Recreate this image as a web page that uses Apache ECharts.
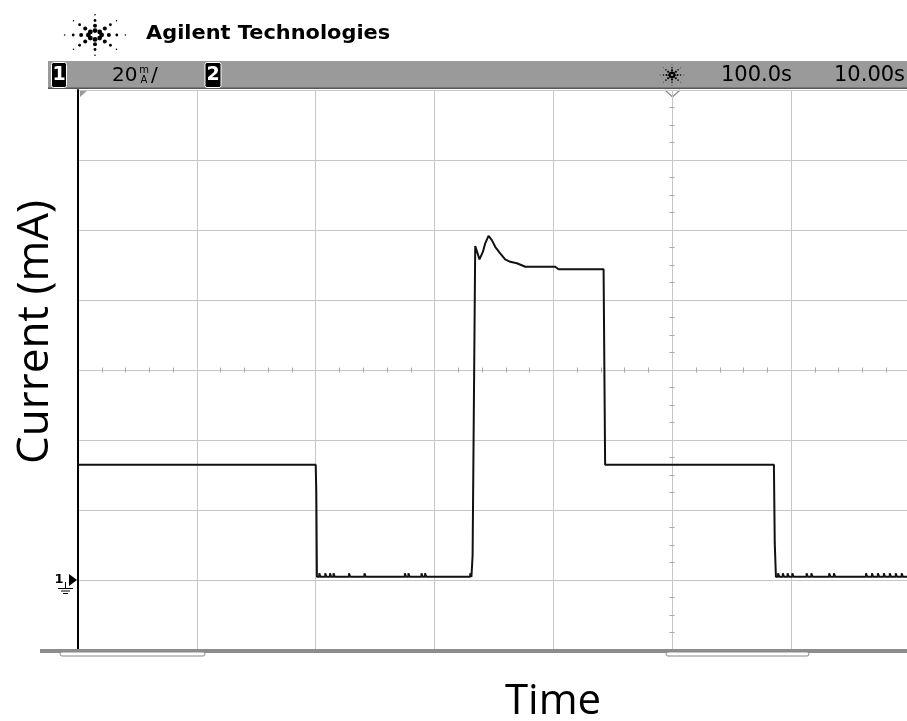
<!DOCTYPE html>
<html>
<head>
<meta charset="utf-8">
<script src="https://cdn.jsdelivr.net/npm/echarts@6/dist/echarts.min.js"></script>
<style>
html,body{margin:0;padding:0;background:#fff;}
#chart{width:907px;height:721px;}
</style>
</head>
<body>
<div id="chart"></div>
<script>
// ---- data (time in s, current in mA; scope: 20 mA/div, 10 s/div) ----
const timeS = [
  0, 20.0, 20.05, 20.1,
  20.3, 20.3, 20.4, 20.8, 20.8, 20.9, 21.2, 21.2, 21.3, 21.5, 21.5, 21.6,
  22.8, 22.8, 22.9, 24.1, 24.1, 24.2, 27.5, 27.5, 27.6, 27.8, 27.8, 27.9,
  28.9, 28.9, 29.0, 29.2, 29.2, 29.3, 33.0, 33.0, 33.1,
  33.2, 33.35, 33.42, 33.78, 34.07, 34.26, 34.54, 34.82, 35.1, 35.52, 35.94,
  36.36, 36.93, 37.63, 40.15, 40.43, 44.22, 44.35,
  58.55, 58.62, 58.72,
  58.9, 58.9, 59.0, 59.3, 59.3, 59.4, 59.7, 59.7, 59.8, 60.1, 60.1, 60.2,
  61.3, 61.3, 61.4, 61.7, 61.7, 61.8, 63.2, 63.2, 63.3, 63.6, 63.6, 63.7,
  66.3, 66.3, 66.4, 66.8, 66.8, 66.9, 67.3, 67.3, 67.4, 67.8, 67.8, 67.9,
  68.3, 68.3, 68.4, 68.8, 68.8, 68.9, 69.3, 69.3, 69.4, 70.0
];
const currentMA = [
  32.9, 32.9, 25.0, 0.9,
  0.9, 1.9, 0.9, 0.9, 1.9, 0.9, 0.9, 1.9, 0.9, 0.9, 1.9, 0.9,
  0.9, 1.9, 0.9, 0.9, 1.9, 0.9, 0.9, 1.9, 0.9, 0.9, 1.9, 0.9,
  0.9, 1.9, 0.9, 0.9, 1.9, 0.9, 0.9, 1.9, 0.9,
  7.0, 7.0, 95.4, 91.6, 93.8, 96.2, 98.3, 97.1, 95.2, 93.3, 91.6,
  90.9, 90.5, 89.5, 89.5, 88.8, 88.8, 32.9,
  32.9, 10.6, 0.9,
  0.9, 1.9, 0.9, 0.9, 1.9, 0.9, 0.9, 1.9, 0.9, 0.9, 1.9, 0.9,
  0.9, 1.9, 0.9, 0.9, 1.9, 0.9, 0.9, 1.9, 0.9, 0.9, 1.9, 0.9,
  0.9, 1.9, 0.9, 0.9, 1.9, 0.9, 0.9, 1.9, 0.9, 0.9, 1.9, 0.9,
  0.9, 1.9, 0.9, 0.9, 1.9, 0.9, 0.9, 1.9, 0.9, 0.9
];
const xRange = [0, 70];      // s
const xStep = 10;            // s/div
const yRange = [-20, 140];   // mA
const yStep = 20;            // mA/div
const xTitle = 'Time';
const yTitle = 'Current (mA)';
const headerBrand = 'Agilent Technologies';
const scaleText = '20';
const delayText = '100.0s';
const timebaseText = '10.00s';

// ---- chart ----
const chart = echarts.init(document.getElementById('chart'), null, {renderer: 'canvas'});
const G = {left: 78, top: 90, width: 832, height: 560};
const gridCol = '#c6c6c6';
const tickCol = '#a8a8a8';
const FONT_UI = "'Open Sans', sans-serif";
const FONT_SCOPE = "'DejaVu Sans', sans-serif";

function starburst(cx, cy, rx, ry, scale) {
  const out = [];
  const rings = [[0.2, 2.4], [0.42, 2.0], [0.66, 1.4], [0.92, 0.8]];
  for (let k = 0; k < 8; k++) {
    const a = k * Math.PI / 4;
    rings.forEach(([f, r]) => {
      out.push({type: 'circle', silent: true,
        shape: {cx: cx + Math.cos(a) * rx * f, cy: cy + Math.sin(a) * ry * f, r: r * scale},
        style: {fill: '#000'}});
    });
  }
  return out;
}

function tickAxisX(pos, offset) {
  return {type: 'value', gridIndex: 1, min: xRange[0], max: xRange[1], interval: xStep,
    position: pos, offset: offset,
    axisLine: {show: false, onZero: false}, axisLabel: {show: false}, splitLine: {show: false},
    axisTick: {show: false, length: 2.5, inside: false},
    minorTick: {show: true, splitNumber: 5, length: 2.5, lineStyle: {color: tickCol, width: 1}}};
}
function tickAxisY(pos, offset) {
  return {type: 'value', gridIndex: 1, min: yRange[0], max: yRange[1], interval: yStep,
    position: pos, offset: offset,
    axisLine: {show: false, onZero: false}, axisLabel: {show: false}, splitLine: {show: false},
    axisTick: {show: false, length: 2.5, inside: false},
    minorTick: {show: true, splitNumber: 4, length: 2.5, lineStyle: {color: tickCol, width: 1}}};
}

const graphics = [
  // header brand
  ...starburst(95, 35, 33, 22, 1),
  {type: 'text', silent: true, x: 146, y: 34, scaleX: 1.1,
    style: {text: headerBrand, font: "bold 19px 'DejaVu Sans', sans-serif", fill: '#000', verticalAlign: 'middle'}},
  // top status bar
  {type: 'rect', silent: true, shape: {x: 48, y: 61, width: 859, height: 27}, style: {fill: '#9a9a9a'}},
  {type: 'rect', silent: true, shape: {x: 48, y: 87.5, width: 859, height: 1.5}, style: {fill: '#555'}},
  {type: 'rect', silent: true, shape: {x: 51.5, y: 62.5, width: 15, height: 25, r: 2}, style: {fill: '#000', stroke: '#fff', lineWidth: 1}},
  {type: 'text', silent: true, x: 59, y: 75.5, style: {text: '1', font: "bold 19px " + FONT_SCOPE, fill: '#fff', align: 'center', verticalAlign: 'middle'}},
  {type: 'text', silent: true, x: 112, y: 75.5, style: {text: scaleText, font: "20px " + FONT_SCOPE, fill: '#000', verticalAlign: 'middle'}},
  {type: 'text', silent: true, x: 144, y: 70, style: {text: 'm', font: "10px " + FONT_SCOPE, fill: '#000', align: 'center', verticalAlign: 'middle'}},
  {type: 'text', silent: true, x: 144, y: 80, style: {text: 'A', font: "10px " + FONT_SCOPE, fill: '#000', align: 'center', verticalAlign: 'middle'}},
  {type: 'text', silent: true, x: 151, y: 75.5, style: {text: '/', font: "20px " + FONT_SCOPE, fill: '#000', verticalAlign: 'middle'}},
  {type: 'rect', silent: true, shape: {x: 205, y: 62.5, width: 16, height: 25, r: 2}, style: {fill: '#000', stroke: '#fff', lineWidth: 1}},
  {type: 'text', silent: true, x: 213, y: 75.5, style: {text: '2', font: "bold 19px " + FONT_SCOPE, fill: '#fff', align: 'center', verticalAlign: 'middle'}},
  ...starburst(672, 75, 13, 11, 0.55),
  {type: 'text', silent: true, x: 721, y: 75.5, style: {text: delayText, font: "21px " + FONT_SCOPE, fill: '#000', verticalAlign: 'middle'}},
  {type: 'text', silent: true, x: 834, y: 75.5, style: {text: timebaseText, font: "21px " + FONT_SCOPE, fill: '#000', verticalAlign: 'middle'}},
  // trigger position marker
  {type: 'polyline', silent: true, shape: {points: [[665, 90], [672.5, 97], [680, 90]]}, style: {stroke: '#888', lineWidth: 1.2, fill: null}},
  // top-left corner marker
  {type: 'polygon', silent: true, shape: {points: [[80, 90], [88, 90], [80, 97]]}, style: {fill: '#999'}},
  // ground reference marker (channel 1)
  {type: 'text', silent: true, x: 59, y: 580, style: {text: '1', font: "bold 13px " + FONT_SCOPE, fill: '#000', align: 'center', verticalAlign: 'middle'}},
  {type: 'polygon', silent: true, shape: {points: [[69, 574], [77, 580], [69, 586]]}, style: {fill: '#000'}},
  {type: 'line', silent: true, shape: {x1: 65.5, y1: 582, x2: 65.5, y2: 588}, style: {stroke: '#000', lineWidth: 1}},
  {type: 'line', silent: true, shape: {x1: 58, y1: 588.5, x2: 73, y2: 588.5}, style: {stroke: '#000', lineWidth: 1}},
  {type: 'line', silent: true, shape: {x1: 61, y1: 591, x2: 70, y2: 591}, style: {stroke: '#000', lineWidth: 1}},
  {type: 'line', silent: true, shape: {x1: 63, y1: 593.5, x2: 68, y2: 593.5}, style: {stroke: '#000', lineWidth: 1}},
  // bottom bar and tabs
  {type: 'rect', silent: true, z: 10, shape: {x: 40, y: 649, width: 867, height: 4}, style: {fill: '#8c8c8c'}},
  {type: 'rect', silent: true, z: 10, shape: {x: 60, y: 652, width: 145, height: 4, r: 2}, style: {fill: '#fff', stroke: '#888', lineWidth: 1}},
  {type: 'rect', silent: true, z: 10, shape: {x: 666, y: 652, width: 143, height: 4, r: 2}, style: {fill: '#fff', stroke: '#888', lineWidth: 1}}
];

const option = {
  animation: false,
  backgroundColor: '#fff',
  grid: [
    {left: G.left, top: G.top, width: G.width, height: G.height, containLabel: false, outerBoundsMode: 'none'},
    {left: G.left, top: G.top, width: G.width, height: G.height, containLabel: false, outerBoundsMode: 'none'}
  ],
  xAxis: [
    {type: 'value', gridIndex: 0, min: xRange[0], max: xRange[1], interval: xStep, position: 'bottom',
      name: xTitle, nameLocation: 'middle', nameGap: 31,
      nameTextStyle: {fontFamily: FONT_UI, fontSize: 42, color: '#000', padding: [0, 0, 0, 118]},
      axisLine: {show: false, onZero: false}, axisTick: {show: false}, axisLabel: {show: false},
      splitLine: {show: true, showMinLine: false, lineStyle: {color: gridCol, width: 1}}},
    tickAxisX('top', -280),
    tickAxisX('bottom', -280)
  ],
  yAxis: [
    {type: 'value', gridIndex: 0, min: yRange[0], max: yRange[1], interval: yStep, position: 'left',
      name: yTitle, nameLocation: 'middle', nameGap: 21, nameRotate: 90,
      nameTextStyle: {fontFamily: FONT_UI, fontSize: 44, color: '#000', padding: [0, 0, 0, 76]},
      axisLine: {show: true, onZero: false, lineStyle: {color: '#000', width: 2}},
      axisTick: {show: false}, axisLabel: {show: false},
      splitLine: {show: true, lineStyle: {color: gridCol, width: 1}}},
    tickAxisY('left', -594),
    tickAxisY('right', -238)
  ],
  series: [{
    type: 'line',
    xAxisIndex: 0, yAxisIndex: 0,
    data: timeS.map((t, i) => [t, currentMA[i]]),
    showSymbol: false,
    lineStyle: {color: '#111', width: 2},
    z: 5
  }],
  graphic: graphics
};
chart.setOption(option);
</script>
</body>
</html>
